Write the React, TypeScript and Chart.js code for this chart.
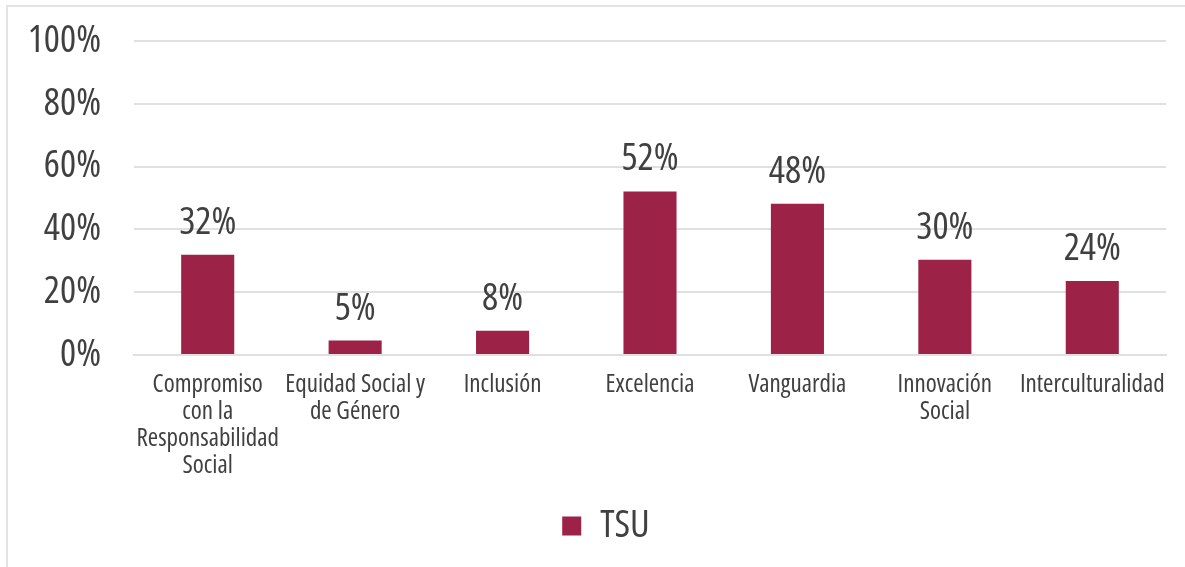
import React, { useEffect, useRef } from "react";
import { Chart, registerables } from "chart.js";

Chart.register(...registerables);

const categories: (string | string[])[] = [
  ["Compromiso", "con la", "Responsabilidad", "Social"],
  ["Equidad Social y", "de Género"],
  "Inclusión",
  "Excelencia",
  "Vanguardia",
  ["Innovación", "Social"],
  "Interculturalidad",
];
const seriesName = "TSU";
const tsuValues = [31.9, 4.6, 7.7, 52.1, 48.2, 30.3, 23.6];
const yTicks = [0, 20, 40, 60, 80, 100];

const FONT = "'Open Sans', 'Liberation Sans', sans-serif";
const STRETCH = "normal condensed";
const TEXT = "#404040";
const BAR = "#9C2347";

const labelPlugin = {
  id: "barLabels",
  afterLayout(chart: any) {
    // Excel centres the legend under the plot area rather than the whole canvas
    const lg = chart.legend;
    if (lg) {
      lg.left += 23;
      lg.right += 23;
    }
  },
  afterDatasetsDraw(chart: any) {
    const ctx = chart.ctx;
    ctx.save();
    ctx.font = `${STRETCH} 38px ${FONT}`;
    ctx.fillStyle = TEXT;
    ctx.textAlign = "center";
    ctx.textBaseline = "alphabetic";
    chart.data.datasets.forEach((ds: any, di: number) => {
      const meta = chart.getDatasetMeta(di);
      meta.data.forEach((el: any, i: number) => {
        const v = ds.data[i] as number;
        ctx.fillText(Math.round(v) + "%", el.x, el.y - 21);
      });
    });
    ctx.restore();
  },
};

export default function App() {
  const ref = useRef<HTMLCanvasElement>(null);
  useEffect(() => {
    if (!ref.current) return;
    const chart = new Chart(ref.current, {
      type: "bar",
      data: {
        labels: categories,
        datasets: [
          {
            label: seriesName,
            data: tsuValues,
            backgroundColor: BAR,
            borderWidth: 0,
            categoryPercentage: 1,
            barPercentage: 0.36,
          },
        ],
      },
      options: {
        responsive: false,
        animation: false,
        layout: { padding: { left: 0, right: 19, top: 41, bottom: 12 } },
        plugins: {
          tooltip: { enabled: false },
          legend: {
            position: "bottom",
            labels: {
              boxWidth: 19,
              boxHeight: 19,
              color: TEXT,
              font: { family: FONT, size: 38, weight: STRETCH as any },
              padding: 10,
            },
          },
        },
        scales: {
          x: {
            grid: { display: false, drawTicks: false },
            border: { display: true, color: "#e0e0e0", width: 2 },
            ticks: {
              color: TEXT,
              font: { family: FONT, size: 25, lineHeight: 27 / 25, weight: STRETCH as any },
              padding: 16,
              maxRotation: 0,
              autoSkip: false,
            },
            afterFit(scale: any) {
              scale.height = 142;
              scale.paddingLeft = 0;
              scale.paddingRight = 0;
            },
          },
          y: {
            min: 0,
            max: 100,
            afterBuildTicks(scale: any) {
              scale.ticks = yTicks.map((v) => ({ value: v }));
            },
            grid: { color: "#e0e0e0", lineWidth: 2, drawTicks: false },
            border: { display: false },
            ticks: {
              color: TEXT,
              font: { family: FONT, size: 38, weight: STRETCH as any },
              padding: 33,
              callback: (v: any) => v + "%",
            },
            afterFit(scale: any) {
              scale.width = 134;
              scale.paddingTop = 0;
              scale.paddingBottom = 0;
            },
          },
        },
      },
      plugins: [labelPlugin],
    });
    return () => chart.destroy();
  }, []);

  return (
    <div style={{ position: "absolute", left: 0, top: 0, width: 1185, height: 567, background: "#fff" }}>
      <div
        style={{
          position: "absolute",
          left: 6,
          top: 5,
          width: 1200,
          height: 600,
          borderTop: "2px solid #e3e3e3",
          borderLeft: "2px solid #e3e3e3",
          boxSizing: "border-box",
        }}
      />
      <canvas ref={ref} width={1185} height={567} style={{ position: "absolute", left: 0, top: 0 }} />
    </div>
  );
}
